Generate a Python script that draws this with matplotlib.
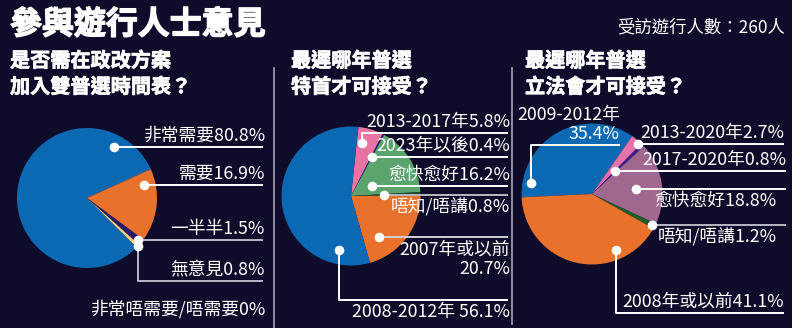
import numpy as np
import matplotlib
matplotlib.use('Agg')
import matplotlib.pyplot as plt
import matplotlib.patheffects as pe

plt.rcParams['font.family'] = ['Noto Sans CJK TC', 'DejaVu Sans']

W, H = 792, 328

# ---- data ----
main_title = '參與遊行人士意見'
sample_note = '受訪遊行人數：260人'

q1_title = '是否需在政改方案\n加入雙普選時間表？'
q1_labels = ['非常需要', '需要', '一半半', '無意見', '非常唔需要/唔需要']
q1_values = [80.8, 16.9, 1.5, 0.8, 0]

q2_title = '最遲哪年普選\n特首才可接受？'
q2_labels = ['2013-2017年', '2023年以後', '愈快愈好', '唔知/唔講', '2007年或以前', '2008-2012年']
q2_values = [5.8, 0.4, 16.2, 0.8, 20.7, 56.1]

q3_title = '最遲哪年普選\n立法會才可接受？'
q3_labels = ['2009-2012年', '2013-2020年', '2017-2020年', '愈快愈好', '唔知/唔講', '2008年或以前']
q3_values = [35.4, 2.7, 0.8, 18.8, 1.2, 41.1]

# ---- style ----
bg = '#0e0b2b'
blue, orange = '#0b69b3', '#e8722c'
q1_colors = [blue, orange, '#2b1a6b', '#f2d27a', bg]
q2_colors = ['#e774a3', '#2a1d7a', '#5ba46d', '#1d4f2a', orange, blue]
q3_colors = [blue, '#e472a8', '#3a1f8a', '#a0678f', '#215e27', orange]
grey = '#b8b8c4'
fs = 12.8


def Y(y):
    # image row -> data y
    return H - y


fig = plt.figure(figsize=(W / 100, H / 100), dpi=100, facecolor=bg)
ax = fig.add_axes([0, 0, 1, 1])
ax.set_facecolor(bg)


def anchor(w, t, rf):
    a = np.deg2rad(w.theta2 - t * (w.theta2 - w.theta1))
    cx, cy = w.center
    return cx + rf * w.r * np.cos(a), cy + rf * w.r * np.sin(a)


def draw(values, labels, colors, center, radius, start, layout):
    wedges, _ = ax.pie(values, colors=colors, startangle=start, counterclock=False,
                       center=(center[0], Y(center[1])), radius=radius,
                       wedgeprops=dict(linewidth=0))
    for w, lab, v, lay in zip(wedges, labels, values, layout):
        t, rf, elbow, x_end, tx, side, lc, sep = lay
        txt = f'{lab}{sep}{v:g}%'
        if t is None:
            ax.text(tx, Y(elbow), txt, color='white', fontsize=fs, ha='right', va='center')
            continue
        dx, dy = anchor(w, t, rf)
        ly = dy if elbow is None else Y(elbow)
        ax.plot([dx, dx, x_end], [dy, ly, ly], color=lc, lw=1.4, zorder=3,
                solid_capstyle='butt')
        ax.scatter([dx], [dy], s=48, color='white', zorder=4, linewidths=0)
        if side == 'above':
            ax.text(tx, ly + 2, txt, color='white', fontsize=fs, ha='right', va='bottom',
                    linespacing=1.1)
        else:
            ax.text(tx, ly - 3, txt, color='white', fontsize=fs, ha='right', va='top',
                    linespacing=1.1)


# t, radial frac, elbow row, line end x, text x, side, line colour, separator
lay1 = [(0.87, 0.82, None, 263, 265, 'above', 'white', ''),
        (0.19, 0.84, None, 263, 265, 'above', 'white', ''),
        (0.5, 0.94, None, 263, 265, 'above', grey, ''),
        (0.5, 1.0, 281, 263, 265, 'above', grey, ''),
        (None, 0, 309, 263, 265, 'above', grey, '')]
lay2 = [(0.26, 0.78, 132.7, 508, 510, 'above', 'white', ''),
        (0.5, 0.64, None, 508, 510, 'above', 'white', ''),
        (0.6, 0.33, None, 508, 510, 'above', 'white', ''),
        (0.5, 0.47, None, 508, 510, 'below', grey, ''),
        (0.75, 0.72, None, 508, 510, 'below', '#d0d0d8', '\n'),
        (0.14, 0.79, 300, 508, 510, 'below', 'white', ' ')]
lay3 = [(0.10, 0.88, 145, 620, 620, 'above', 'white', '\n'),
        (0.8, 0.97, None, 784, 784, 'above', 'white', ''),
        (0.5, 0.46, None, 786, 786, 'above', 'white', ''),
        (0.53, 0.63, None, 786, 777, 'below', 'white', ''),
        (0.5, 0.96, None, 786, 777, 'below', grey, ''),
        (0.25, 0.86, 313, 784, 784, 'above', 'white', '')]

draw(q1_values, q1_labels, q1_colors, (87, 198), 70, 315.2, lay1)
draw(q2_values, q2_labels, q2_colors, (351, 196), 69.5, 83.9, lay2)
draw(q3_values, q3_labels, q3_colors, (592, 194), 70.5, 182.7, lay3)

# separators
for sx, y2 in [(273.5, 328), (511.5, 324)]:
    ax.plot([sx, sx], [Y(68), Y(y2)], color='#9a9aa8', lw=1.3, zorder=1)

ax.text(10, Y(25), main_title, color='white', fontsize=23, fontweight='bold',
        va='center', ha='left',
        path_effects=[pe.withStroke(linewidth=1.0, foreground='white')])
ax.text(785, Y(27), sample_note, color='white', fontsize=12.5, ha='right', va='center')
for tx, tt in [(10, q1_title), (291, q2_title), (525, q3_title)]:
    ax.text(tx, Y(50), tt, color='white', fontsize=14.5, fontweight='bold', ha='left',
            va='top', linespacing=1.3,
            path_effects=[pe.withStroke(linewidth=0.5, foreground='white')])

ax.set_xlim(0, W)
ax.set_ylim(0, H)
ax.set_aspect('equal')
ax.axis('off')

fig.savefig('out.png', dpi=100, facecolor=bg)
